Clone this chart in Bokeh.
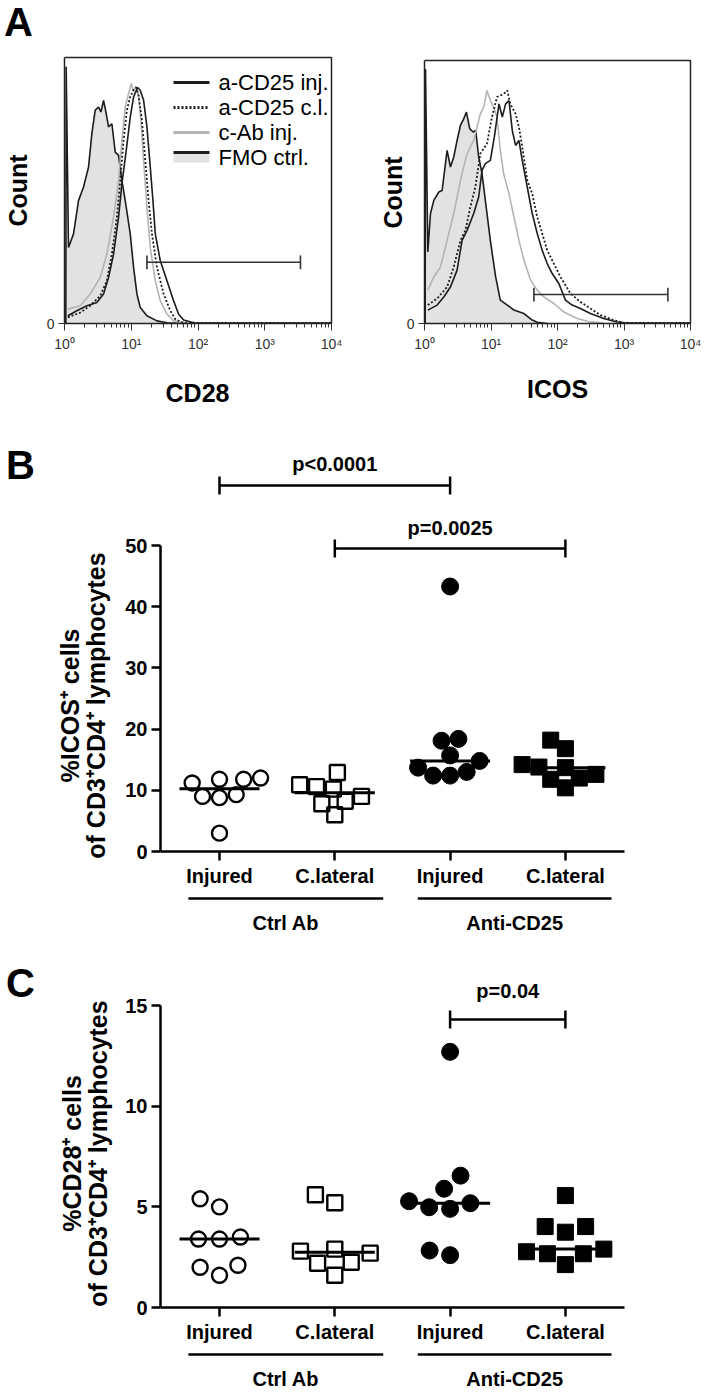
import numpy as np
from bokeh.plotting import figure
from bokeh.layouts import column, row
from bokeh.models import FixedTicker, Range1d
from bokeh.core.properties import value
from bokeh.embed import file_html
from bokeh.resources import INLINE

# ---------------- Panel A: flow cytometry histograms ----------------
# x: log10 fluorescence intensity, y: % of maximum count
legend_names = ["a-CD25 inj.", "a-CD25 c.l.", "c-Ab inj.", "FMO ctrl."]
decade_ticks = [1.0, 10.0, 100.0, 1000.0, 10000.0]
decade_labels = ["10⁰", "10¹", "10²", "10³", "10⁴"]

cd28_fmo_log = [0.02, 0.025, 0.06, 0.135, 0.21, 0.285, 0.36, 0.41, 0.46, 0.51, 0.545, 0.585, 0.625, 0.66,
                0.71, 0.76, 0.81, 0.86, 0.91, 0.985, 1.035, 1.085, 1.135, 1.235, 1.385, 1.535, 1.79]
cd28_fmo_cnt = [0, 96.5, 28.6, 33.7, 46.2, 51.3, 58.8, 71.4, 80.2, 81.4, 79.5, 83.9, 78.9, 73.9,
                75.1, 64.4, 63.2, 53.8, 46.2, 33.7, 21.1, 11.1, 6.0, 2.9, 1.0, 0.3, 0]
cd28_inj_log = [0.05, 0.185, 0.335, 0.485, 0.585, 0.66, 0.735, 0.81, 0.86, 0.925, 0.985, 1.035, 1.095,
                1.135, 1.185, 1.235, 1.285, 1.325, 1.36, 1.435, 1.535, 1.635, 1.71, 1.785, 1.935, 2.5, 4.0]
cd28_inj_cnt = [2.9, 4.8, 6.7, 7.9, 11.1, 17.3, 26.1, 40.0, 52.5, 65.1, 77.6, 85.2, 88.7,
                87.7, 83.9, 73.9, 58.8, 46.2, 33.7, 23.6, 16.1, 8.5, 3.5, 1.3, 0.3, 0.2, 0.2]
cd28_cl_log = [0.05, 0.235, 0.385, 0.535, 0.635, 0.71, 0.785, 0.835, 0.885, 0.935, 0.985, 1.035, 1.075,
               1.11, 1.16, 1.21, 1.26, 1.31, 1.385, 1.485, 1.585, 1.66, 1.76, 2.03, 4.0]
cd28_cl_cnt = [2.3, 4.1, 6.7, 10.4, 16.1, 26.1, 40.0, 53.8, 68.8, 80.2, 85.2, 87.9, 88.7,
               85.8, 76.4, 61.3, 46.2, 33.7, 21.1, 11.1, 4.8, 1.6, 0.4, 0.2, 0.2]
cd28_cab_log = [0.05, 0.235, 0.385, 0.535, 0.635, 0.735, 0.81, 0.86, 0.91, 0.96, 1.0, 1.035, 1.07, 1.11,
                1.145, 1.185, 1.235, 1.285, 1.36, 1.435, 1.535, 1.635, 1.835]
cd28_cab_cnt = [5.4, 6.7, 11.1, 17.3, 26.1, 40.0, 53.8, 68.8, 81.4, 86.4, 90.2, 87.1, 89.2, 85.2,
                76.4, 61.3, 43.7, 28.6, 16.1, 8.5, 3.5, 1.0, 0.2]
cd28_gate_log = [1.235, 3.535]
cd28_gate_cnt = 23.0

icos_fmo_log = [0.01, 0.015, 0.05, 0.09, 0.14, 0.215, 0.265, 0.34, 0.39, 0.44, 0.49, 0.54, 0.59, 0.63, 0.68,
                0.73, 0.77, 0.815, 0.865, 0.915, 0.99, 1.07, 1.14, 1.245, 1.345, 1.495, 1.62, 1.695, 1.845]
icos_fmo_cnt = [0, 96.8, 27.2, 41.8, 46.8, 50.0, 50.6, 65.8, 59.5, 63.3, 69.6, 75.3, 77.8, 80.4, 74.1,
                72.8, 73.4, 63.3, 57.0, 46.8, 31.6, 17.7, 8.9, 7.0, 5.1, 3.8, 1.3, 0.5, 0]
icos_inj_log = [0.05, 0.19, 0.29, 0.39, 0.49, 0.565, 0.64, 0.74, 0.815, 0.865, 0.915, 0.99, 1.05, 1.12,
                1.17, 1.22, 1.27, 1.32, 1.37, 1.42, 1.47, 1.545, 1.62, 1.695, 1.77, 1.845, 1.92, 2.02,
                2.12, 2.22, 2.345, 2.495, 2.695, 2.895, 3.05, 4.0]
icos_inj_cnt = [5.1, 7.0, 10.1, 13.9, 20.3, 31.6, 35.4, 41.8, 48.1, 58.2, 60.8, 62.0, 70.9, 83.5,
                78.5, 83.5, 84.8, 73.4, 67.7, 69.6, 62.0, 51.9, 41.8, 34.2, 27.8, 22.8, 19.0, 15.2,
                8.9, 7.0, 5.7, 3.8, 1.9, 0.6, 0.2, 0.2]
icos_cl_log = [0.05, 0.19, 0.34, 0.44, 0.54, 0.615, 0.69, 0.765, 0.84, 0.89, 0.94, 1.015, 1.09, 1.14,
               1.19, 1.245, 1.29, 1.37, 1.42, 1.47, 1.545, 1.62, 1.695, 1.77, 1.845, 1.945, 2.045,
               2.195, 2.345, 2.495, 2.645, 2.845, 2.995, 4.0]
icos_cl_cnt = [7.0, 9.5, 13.9, 21.5, 31.6, 35.4, 44.3, 51.9, 64.6, 66.5, 68.4, 78.5, 86.1, 86.7,
               87.3, 88.6, 83.5, 79.7, 74.7, 67.1, 54.4, 49.4, 40.5, 34.2, 27.8, 22.8, 17.7,
               11.4, 8.2, 5.7, 3.2, 1.3, 0.2, 0.2]
icos_cab_log = [0.05, 0.14, 0.24, 0.34, 0.44, 0.54, 0.64, 0.74, 0.84, 0.89, 0.94, 0.99, 1.04, 1.09,
                1.14, 1.19, 1.27, 1.345, 1.42, 1.495, 1.595, 1.695, 1.795, 1.945, 2.095, 2.295, 2.495, 2.695]
icos_cab_cnt = [12.7, 17.7, 21.5, 31.6, 41.8, 54.4, 64.6, 69.6, 79.7, 82.3, 88.6, 84.8, 82.3, 78.5,
                65.8, 57.0, 49.4, 40.5, 31.6, 24.1, 16.5, 12.7, 10.1, 7.6, 4.4, 1.9, 0.6, 0.2]
icos_gate_log = [1.645, 3.66]
icos_gate_cnt = 11.0

# ---------------- Panels B and C: dot plots ----------------
conditions = ["Injured", "C.lateral", "Injured", "C.lateral"]
treatments = ["Ctrl Ab", "Anti-CD25"]

icos_ctrl_injured = [11.8, 11.2, 9.0, 8.8, 9.3, 11.8, 12.0, 3.0]
icos_ctrl_clateral = [12.9, 8.2, 10.6, 6.0, 10.2, 7.8, 10.9, 9.0]
icos_anti_injured = [43.3, 18.4, 18.1, 14.8, 15.7, 13.0, 12.4, 12.4, 13.7]
icos_anti_clateral = [18.2, 16.8, 14.2, 13.8, 13.7, 12.6, 12.0, 11.8, 10.4]
icos_ticks = [0, 10, 20, 30, 40, 50]
icos_pvalues = ["p<0.0001", "p=0.0025"]

cd28_ctrl_injured = [5.0, 5.4, 3.4, 3.4, 3.5, 2.1, 1.6, 2.0]
cd28_ctrl_clateral = [5.2, 5.6, 2.9, 2.8, 2.7, 2.25, 2.2, 1.6]
cd28_anti_injured = [12.7, 6.55, 5.9, 5.28, 4.98, 4.9, 5.18, 2.6, 2.83]
cd28_anti_clateral = [5.56, 4.02, 3.74, 4.02, 2.9, 2.67, 2.77, 2.67, 2.13]
cd28_ticks = [0, 5, 10, 15]
cd28_pvalues = ["p=0.04"]

# ---------------- styles ----------------
SANS = "Liberation Sans, Arial, sans-serif"
BLACK = "#1c1c1c"
GREY_LINE = "#b4b4b4"
GREY_FILL = "#e2e2e2"
FIG_TOP_A = 0
FIG_H_A = 420


def txt(p, x, y, text, size, bold=True, angle=0.0, align="center"):
    p.text(x=x, y=y, text=text, angle=angle, text_font=value(SANS),
           text_font_style="bold" if bold else "normal", text_font_size=size,
           text_align=align, text_baseline="middle", text_color="black")


def hist_panel(page_left, width, x0_page, decade_px, zero_page, top_page, fmo, inj, cl, cab,
               gate, gate_y, xlabel, xlabel_xy, count_xy, legend=False, letter=None):
    LX = lambda px: 10 ** ((px - x0_page) / decade_px)
    ppu = (zero_page - top_page) / 100.0
    Y = lambda py: (zero_page - py) / ppu
    p = figure(width=width, height=FIG_H_A, x_axis_type="log",
               x_range=Range1d(LX(page_left), LX(page_left + width)),
               y_range=Range1d(Y(FIG_TOP_A + FIG_H_A), Y(FIG_TOP_A)),
               output_backend="svg", toolbar_location=None, min_border=0)
    p.grid.visible = False
    p.outline_line_color = None

    fx = 10 ** np.array(fmo[0])
    fy = np.array(fmo[1], dtype=float)
    p.varea(x=fx, y1=np.zeros_like(fy), y2=fy, fill_color=GREY_FILL)
    p.line(fx, fy, line_color=BLACK, line_width=1.6)
    p.line(10 ** np.array(cab[0]), cab[1], line_color=GREY_LINE, line_width=1.6)
    p.line(10 ** np.array(cl[0]), cl[1], line_color=BLACK, line_width=1.8, line_dash="2 2")
    p.line(10 ** np.array(inj[0]), inj[1], line_color=BLACK, line_width=1.6)
    g0, g1 = 10 ** gate[0], 10 ** gate[1]
    p.segment(x0=[g0], y0=[gate_y], x1=[g1], y1=[gate_y], line_color="#333333", line_width=1.6)
    p.segment(x0=[g0, g1], y0=[gate_y - 2.6] * 2, x1=[g0, g1], y1=[gate_y + 2.6] * 2,
              line_color="#333333", line_width=1.6)
    # box: top and right edges (left/bottom edges are the axes)
    lo, hi = decade_ticks[0], decade_ticks[-1]
    p.line(x=[lo, hi, hi], y=[100.0, 100.0, 0.0], line_color="#222222", line_width=1.5)

    xa = p.xaxis[0]
    xa.fixed_location = 0
    xa.bounds = (lo, hi)
    xa.ticker = FixedTicker(ticks=decade_ticks,
                            minor_ticks=[m * 10 ** e for e in range(4) for m in range(2, 10)])
    xa.major_label_overrides = dict(zip(decade_ticks, decade_labels))
    xa.major_label_standoff = 5
    xa.major_tick_out = 7
    xa.major_tick_in = 0
    xa.minor_tick_out = 4
    xa.minor_tick_in = 0
    ya = p.yaxis[0]
    ya.fixed_location = lo
    ya.bounds = (0, 100)
    ya.ticker = FixedTicker(ticks=[0])
    ya.major_tick_out = 6
    ya.major_tick_in = 0
    ya.major_label_standoff = 4
    for ax in (xa, ya):
        ax.major_label_text_font = SANS
        ax.major_label_text_font_size = "14px"
        ax.major_label_text_color = "#333333"
        ax.major_tick_line_color = "#333333"
        ax.minor_tick_line_color = "#333333"
        ax.axis_line_color = "#222222"
        ax.axis_line_width = 1.5

    txt(p, [LX(xlabel_xy[0])], [Y(xlabel_xy[1])], [xlabel], "25px")
    txt(p, [LX(count_xy[0])], [Y(count_xy[1])], ["Count"], "25px", angle=np.pi / 2)

    if legend:
        lx0, lx1, tx = LX(173), LX(209), LX(218)
        r = [Y(82), Y(107), Y(132), Y(152)]
        p.segment(x0=[lx0], x1=[lx1], y0=[r[0]], y1=[r[0]], line_color=BLACK, line_width=3)
        p.segment(x0=[lx0], x1=[lx1], y0=[r[1]], y1=[r[1]], line_color=BLACK, line_width=3, line_dash="2 2")
        p.segment(x0=[lx0], x1=[lx1], y0=[r[2]], y1=[r[2]], line_color=GREY_LINE, line_width=3)
        p.quad(left=[lx0], right=[lx1], bottom=[Y(162)], top=[Y(153)], fill_color=GREY_FILL, line_color=None)
        p.segment(x0=[lx0], x1=[lx1], y0=[r[3]], y1=[r[3]], line_color=BLACK, line_width=3)
        txt(p, [tx] * 4, [Y(82), Y(107), Y(132), Y(157)], legend_names, "22px", bold=False, align="left")
    if letter is not None:
        txt(p, [LX(letter[0])], [Y(letter[1])], [letter[2]], "40px")
    return p


# page geometry of the dot plots (category centres and spacing)
CAT0_PAGE = 219.0
CAT_PX = 115.3
FIG_W = 707


def swarm_offsets(vals, ppu, d):
    """Greedy beeswarm: horizontal pixel offsets so that markers keep distance d."""
    placed = []
    offs = [0.0] * len(vals)
    for i in sorted(range(len(vals)), key=lambda k: vals[k]):
        y = vals[i] * ppu
        forb = []
        for xj, yj in placed:
            dy = abs(y - yj)
            if dy < d:
                w = (d * d - dy * dy) ** 0.5
                forb.append((xj - w, xj + w))
        cands = [0.0] + [a for a, _ in forb] + [b for _, b in forb]
        ok = [c for c in cands if all(not (a + 1e-6 < c < b - 1e-6) for a, b in forb)]
        best = min(ok, key=lambda c: (abs(c), c))
        placed.append((best, y))
        offs[i] = best
    return offs


def dot_panel(fig_top, height, zero_page, ppu, yticks, groups, ylabel_lines, ylabel_x, ylabel_y,
              letter, letter_xy, brackets, pvals, group_line_y, group_label_y, swarm_d):
    Xp = lambda px: (px - CAT0_PAGE) / CAT_PX
    Yp = lambda py: (zero_page - py) / ppu
    p = figure(width=FIG_W, height=height,
               x_range=Range1d(Xp(0), Xp(FIG_W)), y_range=Range1d(Yp(fig_top + height), Yp(fig_top)),
               output_backend="svg", toolbar_location=None, min_border=0)
    p.outline_line_color = None
    p.grid.visible = False

    ya = p.yaxis[0]
    ya.fixed_location = Xp(160)
    ya.bounds = (0, yticks[-1])
    ya.ticker = FixedTicker(ticks=yticks)
    xa = p.xaxis[0]
    xa.fixed_location = 0
    xa.bounds = (Xp(160), Xp(624))
    xa.ticker = FixedTicker(ticks=[0, 1, 2, 3])
    xa.major_label_overrides = {i: c for i, c in enumerate(conditions)}
    for ax in (xa, ya):
        ax.axis_line_width = 2.5
        ax.axis_line_color = "black"
        ax.major_tick_line_width = 2.5
        ax.major_tick_line_color = "black"
        ax.major_tick_out = 9
        ax.major_tick_in = 0
        ax.minor_tick_out = 0
        ax.minor_tick_in = 0
        ax.major_label_text_font = SANS
        ax.major_label_text_font_style = "bold"
        ax.major_label_text_font_size = "20px"
        ax.major_label_text_color = "black"
    ya.major_label_standoff = 4
    xa.major_label_standoff = 4

    specs = [("circle", False, 15), ("square", False, 15), ("circle", True, 17), ("square", True, 16)]
    for i, vals in enumerate(groups):
        offs = swarm_offsets(vals, ppu, swarm_d)
        xs = [i + o / CAT_PX for o in offs]
        marker, filled, size = specs[i]
        if filled:
            p.scatter(xs, vals, marker=marker, size=size, fill_color="black", line_color="black", line_width=1)
        else:
            p.scatter(xs, vals, marker=marker, size=size, fill_alpha=0, line_color="black", line_width=2.4)
        med = float(np.median(vals))
        p.segment(x0=[i - 0.347], x1=[i + 0.347], y0=[med], y1=[med], line_color="black", line_width=3)

    # significance brackets
    tick = 9 / ppu
    for (a, b, line_py, text_py), label in zip(brackets, pvals):
        yl = Yp(line_py)
        p.segment(x0=[a], x1=[b], y0=[yl], y1=[yl], line_color="black", line_width=2.5)
        p.segment(x0=[a, b], x1=[a, b], y0=[yl - tick] * 2, y1=[yl + tick] * 2, line_color="black", line_width=2.5)
        txt(p, [(a + b) / 2], [Yp(text_py)], [label], "20px")

    # treatment groups under the axis
    gy = Yp(group_line_y)
    p.segment(x0=[-0.27, 1.72], x1=[1.42, 3.40], y0=[gy, gy], y1=[gy, gy], line_color="black", line_width=2.5)
    txt(p, [0.575, 2.56], [Yp(group_label_y)] * 2, treatments, "20px")

    # y-axis title (two lines)
    txt(p, [Xp(ylabel_x[0]), Xp(ylabel_x[1])], [Yp(ylabel_y)] * 2, ylabel_lines, "25px", angle=np.pi / 2)
    # panel letter
    txt(p, [Xp(letter_xy[0])], [Yp(letter_xy[1])], [letter], "40px")
    return p


pA1 = hist_panel(0, 350, 64, 66.75, 323, 57,
                 (cd28_fmo_log, cd28_fmo_cnt), (cd28_inj_log, cd28_inj_cnt), (cd28_cl_log, cd28_cl_cnt),
                 (cd28_cab_log, cd28_cab_cnt), cd28_gate_log, cd28_gate_cnt, "CD28",
                 (197, 392), (17, 190), legend=True, letter=(18, 21, "A"))
pA2 = hist_panel(350, 357, 424, 66.5, 323, 60,
                 (icos_fmo_log, icos_fmo_cnt), (icos_inj_log, icos_inj_cnt), (icos_cl_log, icos_cl_cnt),
                 (icos_cab_log, icos_cab_cnt), icos_gate_log, icos_gate_cnt, "ICOS",
                 (557, 388), (392, 192))

pB = dot_panel(420, 525, 851, 6.12, icos_ticks,
               [icos_ctrl_injured, icos_ctrl_clateral, icos_anti_injured, icos_anti_clateral],
               ["%ICOS⁺ cells", "of CD3⁺CD4⁺ lymphocytes"], (69, 95), 705,
               "B", (20, 464), [(0, 2, 485, 463), (1, 3, 548, 527)], icos_pvalues, 898, 922, 17)
pC = dot_panel(945, 447, 1307, 20.13, cd28_ticks,
               [cd28_ctrl_injured, cd28_ctrl_clateral, cd28_anti_injured, cd28_anti_clateral],
               ["%CD28⁺ cells", "of CD3⁺CD4⁺ lymphocytes"], (71, 97), 1153,
               "C", (20, 982), [(2, 3, 1019, 990)], cd28_pvalues, 1354, 1378, 21)

layout = column(row(pA1, pA2), pB, pC)
open("out.html", "w").write(file_html(layout, INLINE))
